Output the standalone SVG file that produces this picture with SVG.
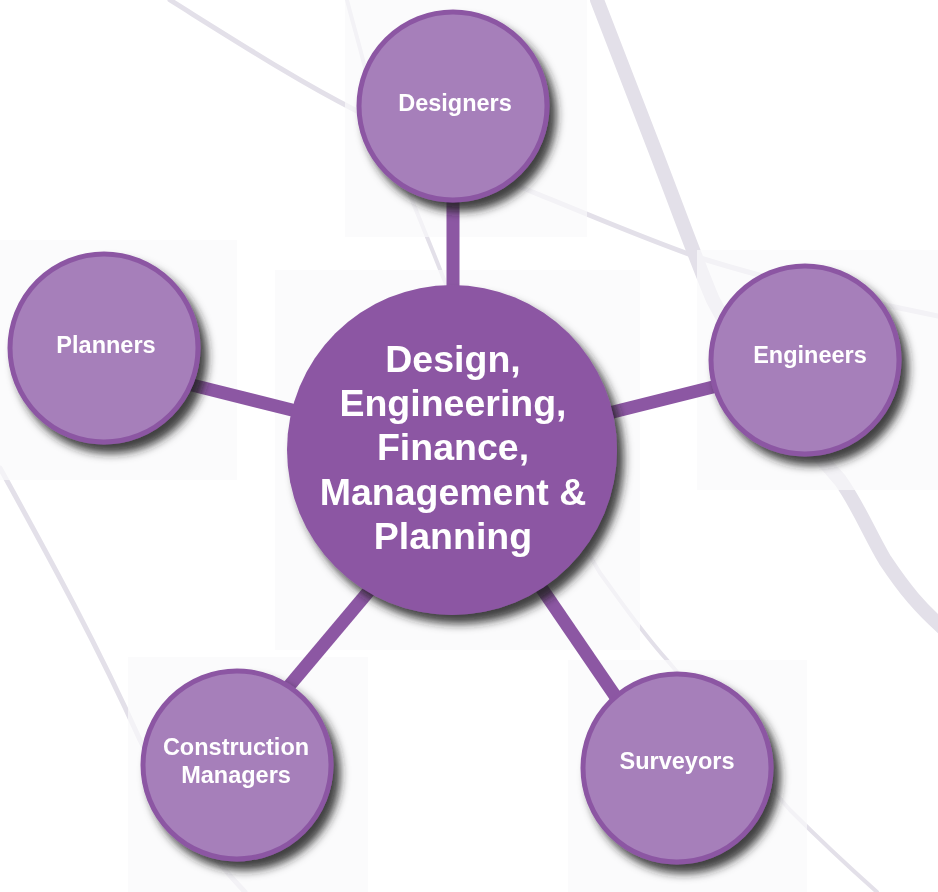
<svg xmlns="http://www.w3.org/2000/svg" width="938" height="892" viewBox="0 0 938 892">
  <defs>
    <filter id="shadow" x="-30%" y="-30%" width="170%" height="170%">
      <feDropShadow dx="7" dy="9" stdDeviation="5" flood-color="#222222" flood-opacity="0.85"/>
    </filter>
    <style>
      .bg { fill: none; stroke: #e3e0e9; stroke-linecap: round; }
      .box { fill: #fafafb; opacity: 0.7; }
      .conn { stroke: #8c57a3; stroke-width: 13; stroke-linecap: butt; }
      .sat { fill: #a67fba; stroke: #8c57a3; stroke-width: 5; }
      .hub { fill: #8c57a3; }
      .lbl { font-family: "Liberation Sans", Arial, Helvetica, sans-serif; font-weight: bold; fill: #ffffff; text-anchor: middle; }
      .s { font-size: 23.5px; }
      .c { font-size: 37.5px; }
    </style>
  </defs>
  <rect width="938" height="892" fill="#ffffff"/>

  <g id="background">
    <path class="bg" stroke-width="5" d="M170,0 C250,50 300,82 355,110 C420,145 480,170 535,193 C590,215 640,237 697,257 C780,283 860,300 938,316"/>
    <path class="bg" stroke-width="4" d="M347,0 C352,20 358,40 363,60 C380,130 405,180 443,277 C490,390 540,470 600,573 C620,600 640,630 667,660 C710,710 750,765 790,810 C820,840 850,868 877,892"/>
    <path class="bg" stroke-width="14" d="M597,0 C620,60 640,110 655,150 C680,215 700,270 713,300 C755,380 800,435 840,480 C858,505 870,535 885,560 C905,590 920,608 945,630"/>
    <path class="bg" stroke-width="5" d="M0,468 C45,550 95,640 140,740 C170,800 205,850 245,892"/>
    <rect class="box" x="345" y="0" width="242" height="237"/>
    <rect class="box" x="0" y="240" width="237" height="240"/>
    <rect class="box" x="697" y="250" width="241" height="240"/>
    <rect class="box" x="275" y="270" width="365" height="380"/>
    <rect class="box" x="128" y="657" width="240" height="235"/>
    <rect class="box" x="568" y="660" width="239" height="232"/>
  </g>

  <g id="connectors">
    <line class="conn" x1="453" y1="195" x2="453" y2="295"/>
    <line class="conn" x1="188" y1="384" x2="300" y2="412"/>
    <line class="conn" x1="605" y1="414" x2="717" y2="386"/>
    <line class="conn" x1="374" y1="585" x2="284" y2="692"/>
    <line class="conn" x1="536" y1="580" x2="620" y2="703"/>
  </g>

  <g id="hub" filter="url(#shadow)">
    <circle class="hub" cx="452" cy="450" r="165"/>
    <text class="lbl c" x="453" y="372">Design,</text>
    <text class="lbl c" x="453" y="416">Engineering,</text>
    <text class="lbl c" x="453" y="460">Finance,</text>
    <text class="lbl c" x="453" y="505">Management &amp;</text>
    <text class="lbl c" x="453" y="549">Planning</text>
  </g>

  <g id="designers" filter="url(#shadow)">
    <circle class="sat" cx="453" cy="106" r="94"/>
    <text class="lbl s" x="455" y="111">Designers</text>
  </g>

  <g id="planners" filter="url(#shadow)">
    <circle class="sat" cx="104" cy="348" r="94"/>
    <text class="lbl s" x="106" y="353">Planners</text>
  </g>

  <g id="engineers" filter="url(#shadow)">
    <circle class="sat" cx="805" cy="360" r="94"/>
    <text class="lbl s" x="810" y="363">Engineers</text>
  </g>

  <g id="construction-managers" filter="url(#shadow)">
    <circle class="sat" cx="237" cy="765" r="94"/>
    <text class="lbl s" x="236" y="755">Construction</text>
    <text class="lbl s" x="236" y="783">Managers</text>
  </g>

  <g id="surveyors" filter="url(#shadow)">
    <circle class="sat" cx="677" cy="768" r="94"/>
    <text class="lbl s" x="677" y="769">Surveyors</text>
  </g>
</svg>
